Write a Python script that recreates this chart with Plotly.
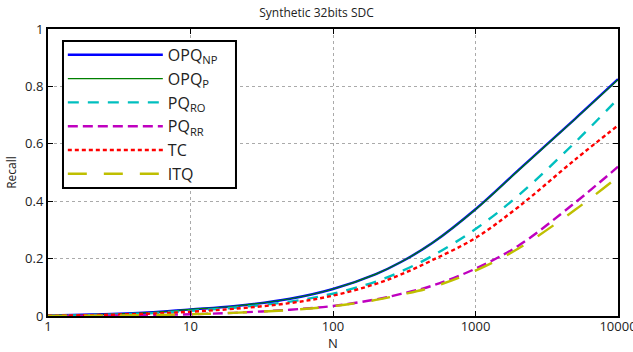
import plotly.graph_objects as go

N = [1, 2, 5, 10, 20, 50, 100, 200, 300, 500, 1000, 2000, 5000, 10000]
opq_np = [0.002, 0.005, 0.012, 0.023, 0.034, 0.060, 0.094, 0.146, 0.188, 0.255, 0.372, 0.508, 0.687, 0.825]
opq_p = [0.002, 0.005, 0.012, 0.023, 0.034, 0.060, 0.094, 0.146, 0.188, 0.255, 0.371, 0.507, 0.686, 0.823]
pq_ro = [0.001, 0.003, 0.009, 0.018, 0.029, 0.050, 0.078, 0.120, 0.155, 0.210, 0.303, 0.420, 0.605, 0.757]
pq_rr = [0.0005, 0.001, 0.003, 0.006, 0.011, 0.022, 0.035, 0.058, 0.077, 0.106, 0.165, 0.245, 0.395, 0.520]
tc = [0.001, 0.003, 0.008, 0.015, 0.025, 0.045, 0.071, 0.112, 0.145, 0.195, 0.272, 0.380, 0.545, 0.664]
itq = [0.0005, 0.001, 0.003, 0.006, 0.011, 0.021, 0.034, 0.056, 0.074, 0.101, 0.158, 0.235, 0.370, 0.485]

x_ticks = [1, 10, 100, 1000, 10000]
x_tick_text = ["1", "10", "100", "1000", "10000"]
y_ticks = [0, 0.2, 0.4, 0.6, 0.8, 1]
y_tick_text = ["0", "0.2", "0.4", "0.6", "0.8", "1"]

series = [
    ("OPQ<sub>NP</sub>", opq_np, "#0000ff", 2.4, "solid"),
    ("OPQ<sub>P</sub>", opq_p, "#008000", 1.2, "solid"),
    ("PQ<sub>RO</sub>", pq_ro, "#00bfbf", 2.4, "11px,9px"),
    ("PQ<sub>RR</sub>", pq_rr, "#bf00bf", 2.4, "10px,5px"),
    ("TC", tc, "#ff0000", 2.4, "4px,3px"),
    ("ITQ", itq, "#bfbf00", 2.4, "19px,17px"),
]

fig = go.Figure()
for name, ys, color, w, dash in series:
    fig.add_trace(go.Scatter(
        x=N, y=ys, mode="lines", name=name,
        line=dict(color=color, width=w, dash=dash, shape="spline", smoothing=1.0),
    ))

fig.update_layout(
    width=633, height=352,
    margin=dict(l=48, r=15, t=29, b=36, autoexpand=False),
    paper_bgcolor="white", plot_bgcolor="white",
    font=dict(family="Open Sans, DejaVu Sans, sans-serif", size=13, color="#222"),
    title=dict(text="Synthetic 32bits SDC", x=0.5, xanchor="center", y=0.965, yanchor="middle",
               font=dict(size=12, color="#222")),
    showlegend=True,
    legend=dict(
        x=0.026, y=0.969, xanchor="left", yanchor="top",
        bgcolor="rgba(0,0,0,0)", borderwidth=0,
        font=dict(size=16, color="#222"),
        itemwidth=95, tracegroupgap=0,
    ),
    shapes=[dict(
        type="rect", xref="paper", yref="paper",
        x0=0.0263, x1=0.3298, y0=0.446, y1=0.958,
        fillcolor="white", line=dict(color="black", width=2), layer="above",
    )],
)

fig.update_xaxes(
    type="log", range=[0, 4], automargin=False,
    tickvals=x_ticks, ticktext=x_tick_text, ticklabeloverflow="allow",
    ticklabelstandoff=-3,
    showline=True, linecolor="black", linewidth=2, mirror="ticks",
    ticks="inside", ticklen=5, tickcolor="black",
    showgrid=True, gridcolor="#aaaaaa", griddash="dot", gridwidth=1,
    title=dict(text="N", standoff=0, font=dict(size=13)),
    zeroline=False,
)
fig.update_yaxes(
    range=[0, 1], automargin=False,
    tickvals=y_ticks, ticktext=y_tick_text,
    showline=True, linecolor="black", linewidth=2, mirror="ticks",
    ticks="inside", ticklen=5, tickcolor="black",
    showgrid=True, gridcolor="#aaaaaa", griddash="dot", gridwidth=1,
    title=dict(text="Recall", standoff=6, font=dict(size=12)),
    zeroline=False,
)

fig.write_html("out.html", config={"displayModeBar": False},
               post_script="document.body.style.margin='0px';")
